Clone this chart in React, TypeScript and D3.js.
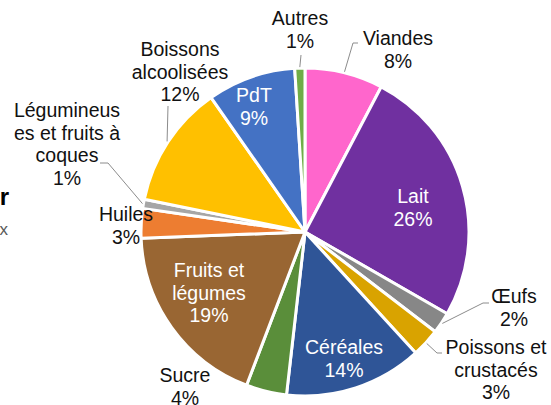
import React from "react";
import * as d3 from "d3";

const categories = [
  "Viandes",
  "Lait",
  "Œufs",
  "Poissons et\ncrustacés",
  "Céréales",
  "Sucre",
  "Fruits et\nlégumes",
  "Huiles",
  "Légumineus\nes et fruits à\ncoques",
  "Boissons\nalcoolisées",
  "PdT",
  "Autres",
];
const values = [7.7, 25.6, 2.1, 2.8, 13.6, 4.0, 18.6, 2.9, 0.9, 12.1, 8.7, 1.0];
const colors = [
  "#FF66CC",
  "#7030A0",
  "#878787",
  "#D9A300",
  "#2F5597",
  "#5A8E3A",
  "#996633",
  "#ED7D31",
  "#A6A6A6",
  "#FFC000",
  "#4472C4",
  "#70AD47",
];

type Layout = { x: number; y: number; white?: boolean; elbow?: [number, number][] };
// label layout (x centre, first baseline, optional leader elbows from label side)
const layout: Layout[] = [
  { x: 398, y: 45, elbow: [[358, 43], [353, 43]] },
  { x: 413, y: 203, white: true },
  { x: 514, y: 303, elbow: [[489, 303], [483, 303]] },
  { x: 496, y: 354, elbow: [[442, 353], [437, 353]] },
  { x: 344, y: 354, white: true },
  { x: 185, y: 382 },
  { x: 209, y: 277, white: true },
  { x: 126, y: 221 },
  { x: 67, y: 117, elbow: [[100, 163], [108, 163]] },
  { x: 180, y: 56, elbow: [[168, 106]] },
  { x: 254, y: 102, white: true },
  { x: 300, y: 25, elbow: [[301, 55]] },
];

const W = 551;
const H = 405;
const cx = 305;
const cy = 232;
const R = 164;
const lineH = 22.5;
const font = "'Liberation Sans', Arial, sans-serif";

export default function App() {
  const total = d3.sum(values);
  const pie = d3
    .pie<number>()
    .sort(null)
    .value((d) => d)
    .startAngle(0)
    .endAngle(2 * Math.PI);
  const arcs = pie(values);
  const arc = d3.arc<d3.PieArcDatum<number>>().innerRadius(0).outerRadius(R);

  return (
    <svg
      width={W}
      height={H}
      style={{ position: "absolute", left: 0, top: 0, background: "#fff" }}
    >
      <text x={9} y={205} textAnchor="end" fontFamily={font} fontWeight="bold" fontSize={24} fill="#000">
        r
      </text>
      <text x={8} y={235} textAnchor="end" fontFamily={font} fontSize={17} fill="#595959">
        x
      </text>
      <g transform={`translate(${cx},${cy})`}>
        {arcs.map((a, i) => (
          <path key={i} d={arc(a) || ""} fill={colors[i]} stroke="#fff" strokeWidth={3} strokeLinejoin="round" />
        ))}
      </g>
      {arcs.map((a, i) => {
        const L = layout[i];
        if (!L.elbow) return null;
        const mid = (a.startAngle + a.endAngle) / 2;
        const ax = cx + Math.sin(mid) * (R + 1);
        const ay = cy - Math.cos(mid) * (R + 1);
        const pts = [...L.elbow, [ax, ay]] as [number, number][];
        return (
          <path
            key={"l" + i}
            d={d3.line()(pts) || ""}
            fill="none"
            stroke="#8c8c8c"
            strokeWidth={1}
          />
        );
      })}
      {categories.map((c, i) => {
        const L = layout[i];
        const lines = [...c.split("\n"), `${Math.round((values[i] / total) * 100)}%`];
        return (
          <text
            key={"t" + i}
            fontFamily={font}
            fontSize={19.5}
            textAnchor="middle"
            fill={L.white ? "#fff" : "#111"}
          >
            {lines.map((s, j) => (
              <tspan key={j} x={L.x} y={L.y + j * lineH}>
                {s}
              </tspan>
            ))}
          </text>
        );
      })}
    </svg>
  );
}
